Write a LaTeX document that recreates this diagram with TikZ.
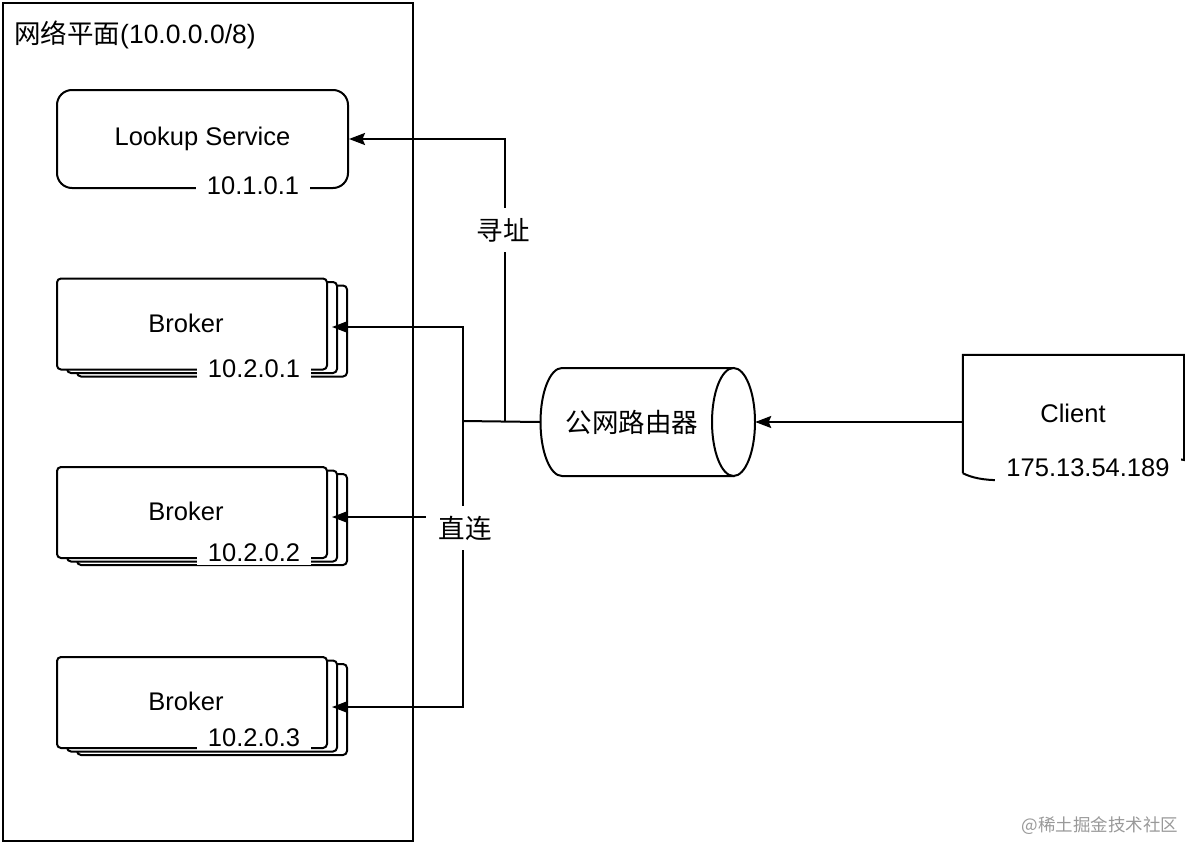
\documentclass[tikz,border=0pt]{standalone}
\usepackage{fontspec}
\setmainfont{Liberation Sans}
\newfontfamily\cjk{Noto Sans CJK SC}
\usetikzlibrary{arrows.meta,shadows,calc}
\tikzset{
  ln/.style={line width=2pt, draw=black},
  arr/.style={ln, -{Stealth[length=16pt,width=12pt,inset=2.5pt]}},
  txt/.style={font=\fontsize{25.5}{30}\selectfont, inner sep=0pt},
  cjktxt/.style={font=\cjk\fontsize{26.5}{30}\selectfont, inner sep=0pt},
  ip/.style={txt, fill=white, inner xsep=11pt, inner ysep=3pt},
  brokerbox/.style={ln, fill=white, rounded corners=4pt, minimum width=270pt, minimum height=91pt,
    double copy shadow={shadow xshift=10pt, shadow yshift=-3.5pt, fill=white, draw=black, line width=2pt}},
}
\begin{document}
\begin{tikzpicture}[x=1pt,y=-1pt]
\useasboundingbox (0,0) rectangle (1185,843);
% network plane frame
\node[ln, minimum width=410pt, minimum height=838pt, inner sep=0pt] (plane) at (208,422) {};
\node[txt, anchor=west, font=\fontsize{26.5}{30}\selectfont] (title) at (14,35) {{\cjk 网络平面}(10.0.0.0/8)};
% lookup service
\node[ln, rounded corners=15pt, minimum width=291pt, minimum height=98pt, txt] (lookup) at (202.5,139) {Lookup Service};
\node[ip] (lookupip) at (253,186) {10.1.0.1};
% brokers
\node[brokerbox] (b1) at (192,324) {};
\node[txt] (b1t) at (186,323) {Broker};
\node[ip] (b1ip) at (254,369) {10.2.0.1};
\node[brokerbox] (b2) at (192,512.5) {};
\node[txt] (b2t) at (186,511) {Broker};
\node[ip] (b2ip) at (254,553) {10.2.0.2};
\node[brokerbox] (b3) at (192,702.5) {};
\node[txt] (b3t) at (186,701) {Broker};
\node[ip] (b3ip) at (254,738) {10.2.0.3};
% router (horizontal cylinder)
\node[minimum width=215pt, minimum height=108pt, inner sep=0pt] (router) at (647.5,422) {};
\draw[ln, fill=white] (562,368) -- (733.5,368) -- (733.5,476) -- (562,476)
  .. controls (550.1,476) and (540.5,451.8) .. (540.5,422)
  .. controls (540.5,392.2) and (550.1,368) .. cycle;
\draw[ln, fill=white] (733.5,422) ellipse [x radius=21.5pt, y radius=54pt];
\node[cjktxt] (routert) at (632,422) {公网路由器};
% client
\node[minimum width=221pt, minimum height=118pt, inner sep=0pt] (client) at (1073.5,414) {};
\draw[ln] (client.south west) -- (client.north west) -- (client.north east) -- (1184,460)
  .. controls (1160,455) and (1120,458) .. (1073,470)
  .. controls (1010,484) and (980,482) .. (client.south west);
\node[txt] (clientt) at (1073,413) {Client};
\node[txt, fill=white, inner xsep=11pt, minimum height=32pt] (clientip) at (1088,468) {175.13.54.189};
% connectors
\coordinate (j1) at (463,421);
\coordinate (j2) at (505,421);
\draw[arr] (client.west |- router.east) -- (router.east);
\draw[ln] (router.west) -- (j1);
\draw[arr] (j2) |- (lookup.east);
\draw[arr] (j1) |- ([xshift=4pt,yshift=-3pt]b1.east);
\draw[arr] (j1) |- ([xshift=4pt,yshift=-4.5pt]b2.east);
\draw[arr] (j1) |- ([xshift=4pt,yshift=-4.5pt]b3.east);
\node[cjktxt, fill=white, inner xsep=8pt, inner ysep=10pt] (xz) at (503,230) {寻址};
\node[cjktxt, fill=white, inner xsep=13pt, inner ysep=10pt] (zl) at (465,528) {直连};
% watermark
\node[inner sep=0pt, text=black!40, font=\cjk\fontsize{17.5}{20}\selectfont] (wm) at (1100,826) {@稀土掘金技术社区};
\end{tikzpicture}
\end{document}
